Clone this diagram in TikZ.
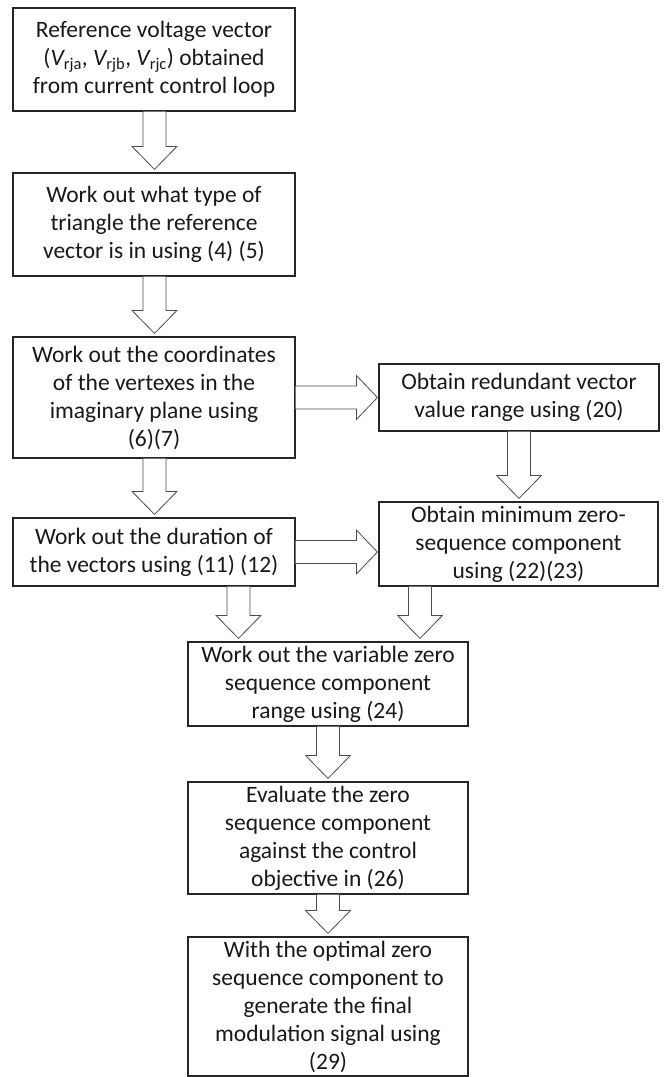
\documentclass[tikz,border=0pt]{standalone}
\usepackage{fontspec}
\setmainfont{Carlito}
\usetikzlibrary{calc}
\tikzset{
  box/.style={draw=black!85, line width=1.2pt, rectangle, inner sep=0pt, align=center,
    text=black!90, font=\fontsize{23.5pt}{28pt}\selectfont},
  blk/.style={draw=black!70, line width=0.8pt, fill=white, line join=miter}
}
\newcommand{\vblock}[3]{%
  \draw[blk] let \p1=(#2.south), \p2=(#3.north) in
   (#1pt-11.5pt,\y1) -- (#1pt-11.5pt,\y2+26pt) -- (#1pt-22.5pt,\y2+26pt) -- (#1pt,\y2+3pt)
   -- (#1pt+22.5pt,\y2+26pt) -- (#1pt+11.5pt,\y2+26pt) -- (#1pt+11.5pt,\y1);
}
\newcommand{\hblock}[3]{%
  \draw[blk] let \p1=(#2.east), \p2=(#3.west) in
   (\x1,#1pt+11.5pt) -- (\x2-22pt,#1pt+11.5pt) -- (\x2-22pt,#1pt+22pt) -- (\x2-1pt,#1pt)
   -- (\x2-22pt,#1pt-22pt) -- (\x2-22pt,#1pt-11.5pt) -- (\x1,#1pt-11.5pt);
}
\begin{document}
\begin{tikzpicture}
\useasboundingbox (0,0) rectangle (665pt,-1077pt);
\fill[white] (0,0) rectangle (665pt,-1077pt);

\node[box, minimum width=282pt, minimum height=103pt] (b1) at (154pt,-59.5pt)
  {Reference voltage vector\\({\itshape V}\textsubscript{rja}, {\itshape V}\textsubscript{rjb}, {\itshape V}\textsubscript{rjc}) obtained\\from current control loop};
\node[box, minimum width=282pt, minimum height=103pt] (b2) at (154pt,-224.5pt)
  {Work out what type of\\triangle the reference\\vector is in using (4) (5)};
\node[box, minimum width=282pt, minimum height=121pt] (b3) at (154pt,-397.5pt)
  {Work out the coordinates\\of the vertexes in the\\imaginary plane using\\(6)(7)};
\node[box, minimum width=280pt, minimum height=67pt] (b4) at (519pt,-397.5pt)
  {Obtain redundant vector\\value range using (20)};
\node[box, minimum width=282pt, minimum height=68pt] (b5) at (154pt,-552pt)
  {Work out the duration of\\the vectors using (11) (12)};
\node[box, minimum width=279pt, minimum height=84pt] (b6) at (518.5pt,-544pt)
  {Obtain minimum zero-\\sequence component\\using (22)(23)};
\node[box, minimum width=280pt, minimum height=84pt] (b7) at (328pt,-684pt)
  {Work out the variable zero\\sequence component\\range using (24)};
\node[box, minimum width=280pt, minimum height=112pt] (b8) at (328pt,-838pt)
  {Evaluate the zero\\sequence component\\against the control\\objective in (26)};
\node[box, minimum width=280pt, minimum height=139pt] (b9) at (328pt,-1006.5pt)
  {With the optimal zero\\sequence component to\\generate the final\\modulation signal using\\(29)};

\vblock{154.5}{b1}{b2}
\vblock{154.5}{b2}{b3}
\vblock{154.5}{b3}{b5}
\hblock{-397.5}{b3}{b4}
\vblock{519}{b4}{b6}
\hblock{-552}{b5}{b6}
\vblock{238.5}{b5}{b7}
\vblock{420}{b6}{b7}
\vblock{328}{b7}{b8}
\vblock{328}{b8}{b9}
\end{tikzpicture}
\end{document}
